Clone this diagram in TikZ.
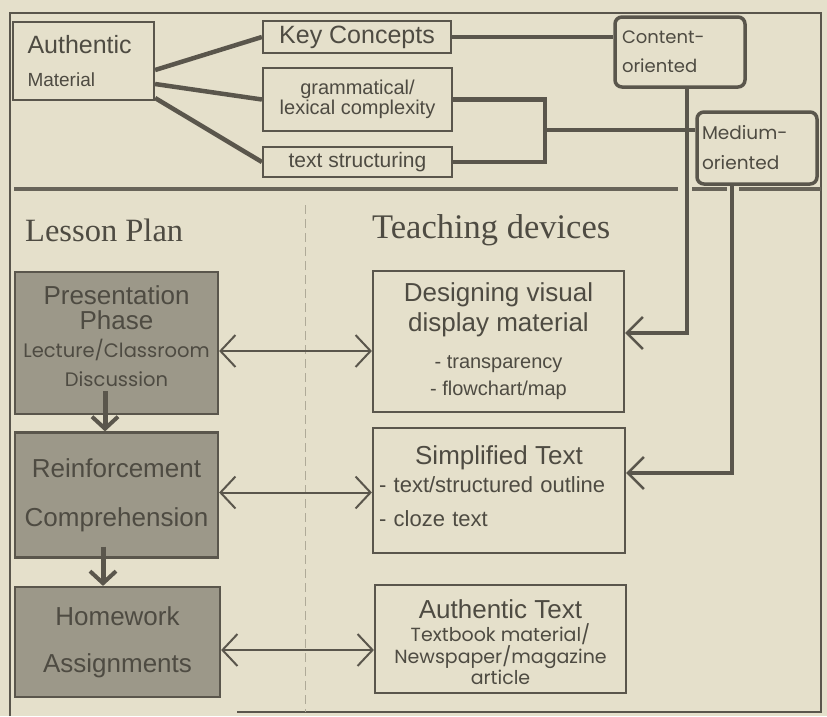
\documentclass[tikz,border=0pt]{standalone}
\usepackage{fontspec}
\setmainfont{Liberation Sans}
\newfontfamily\geo{Poppins}
\newfontfamily\serifx{Liberation Serif}
\usetikzlibrary{arrows.meta,calc}
\definecolor{bg}{RGB}{229,224,203}
\definecolor{ink}{RGB}{90,86,76}
\definecolor{shade}{RGB}{156,152,137}
\definecolor{txt}{RGB}{78,75,66}
\definecolor{dashc}{RGB}{175,170,152}
\newcommand{\fs}[2]{\fontsize{#1}{#2}\selectfont}
\begin{document}
\lineskiplimit=-100pt
\begin{tikzpicture}[x=1pt,y=-1pt,
  box/.style={draw=ink, line width=2.2pt, inner sep=0pt, text=txt, align=center},
  rbox/.style={draw=ink, line width=3.5pt, rounded corners=7pt, inner sep=0pt, text=txt, align=left},
  gbox/.style={draw=ink, line width=2.2pt, fill=shade, inner sep=0pt, text=txt, align=center},
  conn/.style={draw=ink, line width=4.5pt},
  vconn/.style={draw=ink, line width=4pt, -{Straight Barb[length=16pt,width=32pt,line width=2.5pt]}},
  dbl/.style={draw=ink, line width=2pt, {Straight Barb[length=15pt,width=32pt]}-{Straight Barb[length=15pt,width=32pt]}},
  down/.style={draw=ink, line width=5pt, -{Straight Barb[length=12pt,width=26pt,line width=4pt]}},
  sep/.style={draw=ink!90!bg, line width=4pt},
  heading/.style={text=txt, inner sep=0pt, anchor=west}
]
\useasboundingbox (0,0) rectangle (827,716);
\fill[bg] (0,0) rectangle (827,716);
% frame
\draw[ink, line width=2pt] (10,716) -- (10,13) -- (821,13) -- (821,712) -- (237,712);
% separator
\draw[sep] (14,189) -- (678,189);
\draw[sep] (692,189) -- (727,189);
\draw[sep] (739,189) -- (821,189);
% dashed divider
\draw[dashc, line width=1pt, dash pattern=on 9pt off 5pt] (305,205) -- (305,712);

% top nodes
\node[box, minimum width=141pt, minimum height=78pt, align=left, text width=112pt, font=\fs{19}{33}] (am) at (83.5,61)
  {{\fs{25}{30}Authentic}\\Material};
\node[box, minimum width=188pt, minimum height=32pt, font=\fs{25}{28}] (kc) at (357,37) {Key Concepts};
\node[box, minimum width=189pt, minimum height=63pt, font=\fs{20}{19.5}] (gl) at (357.5,99.5) {grammatical/\\lexical complexity};
\node[box, minimum width=189pt, minimum height=30pt, font=\fs{21}{24}] (ts) at (357.5,162) {text structuring};
\node[rbox, minimum width=130pt, minimum height=70pt, text width=116pt, font=\geo\fs{18}{29}] (co) at (680,52) {Content-\\oriented};
\node[rbox, minimum width=120pt, minimum height=72pt, text width=110pt, font=\geo\fs{18.5}{30}] (mo) at (757,148) {Medium-\\oriented};

% headings
\node[heading, font=\serifx\fs{32.5}{33}] (lp) at (25,230) {Lesson Plan};
\node[heading, font=\serifx\fs{34.5}{35}] (td) at (372,230) {Teaching devices};

% left column
\node[gbox, minimum width=203pt, minimum height=142pt, font=\fs{26}{27}] (pp) at (116.5,343)
  {Presentation\\[-2pt]Phase\\[1pt]{\geo\fs{19.5}{22}Lecture/Classroom}\\[2pt]{\geo\fs{19.5}{22}Discussion}\\[-13pt]\mbox{}};
\node[gbox, minimum width=203pt, minimum height=125pt, font=\fs{26}{49}] (rc) at (116.5,495) {Reinforcement\\Comprehension};
\node[gbox, minimum width=205pt, minimum height=110pt, font=\fs{26}{47}] (ha) at (117.5,642) {Homework\\Assignments\\[-43pt]\mbox{}};

% right column
\node[box, minimum width=251pt, minimum height=141pt, font=\fs{20}{30}] (dv) at (498.5,341.5)
  {{\fs{26}{30}Designing visual}\\{\fs{26}{30}display material}\\[7pt]- transparency\\[-3pt]- flowchart/map};
\node[box, minimum width=252pt, minimum height=125pt, align=left, text width=240pt, font=\fs{22}{34}] (st) at (499,490.5)
  {{\fs{26}{30}\hfil Simplified Text\hfil}\\[-6pt]- text/structured outline\\- cloze text\\[-25pt]\mbox{}};
\node[box, minimum width=251pt, minimum height=108pt, font=\geo\fs{19}{22}] (at) at (500.5,639)
  {\mbox{}\\[3pt]{\rmfamily\fs{26}{26}Authentic Text}\\[1pt]Textbook material/\\Newspaper/magazine\\[-1pt]article};

% top connectors
\draw[conn] ([yshift=-9pt]am.east) -- (kc.west);
\draw[conn] ([yshift=-23pt]am.east) -- (gl.west);
\draw[conn] ([yshift=-37pt]am.east) -- (ts.west);
\draw[conn] (kc.east) -- (kc.east -| co.west);
\coordinate (jx) at (545,130);
\draw[conn] (gl.east) -| (jx) |- (ts.east);
\draw[conn] (jx) -- (jx -| mo.west);
\draw[vconn] ([xshift=7pt]co.south) |- ([yshift=8.5pt]dv.east);
\draw[vconn] ([xshift=-25pt]mo.south) |- ([yshift=17.5pt]st.east);

% horizontal double arrows
\draw[dbl] ([yshift=-8pt]pp.east) -- ([yshift=-8pt]pp.east -| dv.west);
\draw[dbl] ([yshift=2.5pt]rc.east) -- ([yshift=2.5pt]rc.east -| st.west);
\draw[dbl] ([yshift=-8pt]ha.east) -- ([yshift=-8pt]ha.east -| at.west);

% down arrows
\draw[down] ([xshift=-11.5pt,yshift=24pt]pp.south) -- ([xshift=-11.5pt]rc.north);
\draw[down] ([xshift=-13.5pt,yshift=12pt]rc.south) -- ([xshift=-14.5pt]ha.north);
\end{tikzpicture}
\end{document}
